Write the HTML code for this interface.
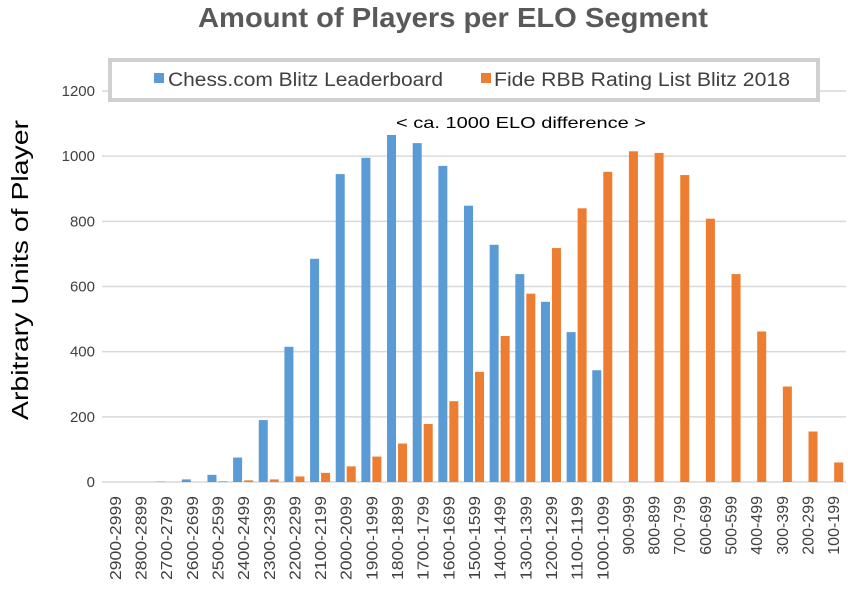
<!DOCTYPE html>
<html><head><meta charset="utf-8"><style>
body{margin:0;background:#fff;}
svg text{font-family:"Liberation Sans",sans-serif;}
</style></head><body>
<svg id="chart" width="848" height="591" xmlns="http://www.w3.org/2000/svg">
<text x="198" y="27" textLength="510" lengthAdjust="spacingAndGlyphs" font-size="28" font-weight="bold" fill="#595959">Amount of Players per ELO Segment</text>
<text transform="translate(28,420) rotate(-90)" textLength="300" lengthAdjust="spacingAndGlyphs" font-size="23" fill="#000">Arbitrary Units of Player</text>
<g id="grid"></g><g id="bars"></g><g id="xl"></g>
<rect x="110" y="60" width="708" height="40" fill="#fff" stroke="#d0d0d0" stroke-width="4"/>
<rect x="154" y="73" width="10" height="10" fill="#5b9bd5"/>
<text x="168" y="86" textLength="275" lengthAdjust="spacingAndGlyphs" font-size="19" fill="#404040">Chess.com Blitz Leaderboard</text>
<rect x="481" y="73" width="10" height="10" fill="#ed7d31"/>
<text x="494" y="86" textLength="296" lengthAdjust="spacingAndGlyphs" font-size="19" fill="#404040">Fide RBB Rating List Blitz 2018</text>
<text x="396" y="128" textLength="250" lengthAdjust="spacingAndGlyphs" font-size="16" fill="#000">&lt; ca. 1000 ELO difference &gt;</text>
</svg>
<script>
const categories=["2900-2999","2800-2899","2700-2799","2600-2699","2500-2599","2400-2499","2300-2399","2200-2299","2100-2199","2000-2099","1900-1999","1800-1899","1700-1799","1600-1699","1500-1599","1400-1499","1300-1399","1200-1299","1100-1199","1000-1099","900-999","800-899","700-799","600-699","500-599","400-499","300-399","200-299","100-199"];
const chessCom=[0,0,1,8,22,75,190,415,685,945,995,1065,1040,970,848,728,638,553,460,343,0,0,0,0,0,0,0,0,0];
const fide=[0,0,0,0,2,5,8,17,28,48,78,118,178,248,338,448,578,718,840,952,1015,1010,942,808,638,462,293,155,60];
const yTicks=[0,200,400,600,800,1000,1200];
const NS="http://www.w3.org/2000/svg";
const left=102,right=846,y0=482,y1200=91;
const step=(right-left)/categories.length;
const y=v=>y0-(v/1200)*(y0-y1200);
const xc=i=>left+step*(i+0.5);
function mk(tag,attrs,parent){const e=document.createElementNS(NS,tag);for(const k in attrs)e.setAttribute(k,attrs[k]);document.getElementById(parent).appendChild(e);return e;}
yTicks.forEach(t=>{
  const l=mk('line',{x1:left,x2:right,y1:y(t),y2:y(t),stroke:'#d9d9d9','stroke-width':1.5},'grid');
  
  
  const tx=mk('text',{x:95,y:y(t)+5,'text-anchor':'end','font-size':15,fill:'#404040','font-family':'Liberation Serif, serif'},'grid');
  tx.textContent=t;
  
  
});
categories.forEach((c,i)=>{
  const b=mk('rect',{x:xc(i)-10,y:y(chessCom[i]),width:9,height:y0-y(chessCom[i]),fill:'#5b9bd5'},'bars');
  
  
  const o=mk('rect',{x:xc(i)+1,y:y(fide[i]),width:9,height:y0-y(fide[i]),fill:'#ed7d31'},'bars');
  
  
  const t=mk('text',{transform:`translate(${xc(i)+6},496) rotate(-90)`,'text-anchor':'end','font-size':16,fill:'#404040'},'xl');
  if(c.length===9){t.setAttribute('textLength',84);t.setAttribute('lengthAdjust','spacingAndGlyphs');}
  t.textContent=c;
  
  
});
</script>
</body></html>
